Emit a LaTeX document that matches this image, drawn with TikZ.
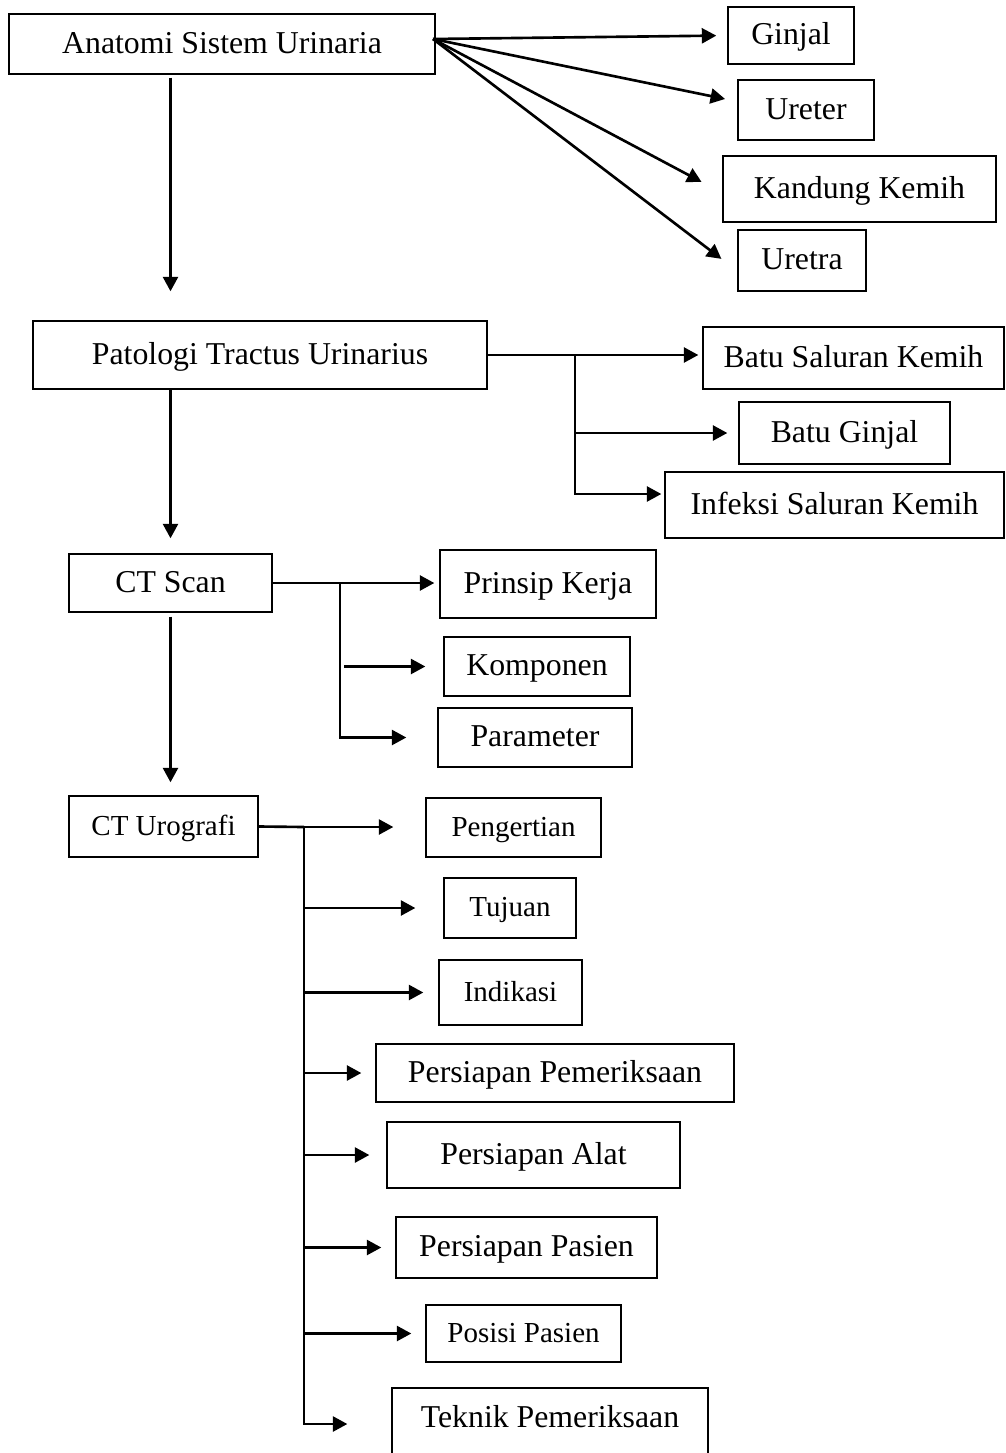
\documentclass[tikz,border=0pt]{standalone}
\usepackage{fontspec}
\setmainfont{Liberation Serif}
\usetikzlibrary{arrows.meta}

\begin{document}
\begin{tikzpicture}[x=0.02cm, y=-0.02cm,
	box/.style={draw, line width=0.8pt, inner sep=0pt, font=\fontsize{18.1}{22}\selectfont, text height=14.5pt, text depth=4pt},
	smallbox/.style={box, font=\fontsize{16.5}{20}\selectfont, text height=13.3pt, text depth=3.6pt},
	link/.style={line width=1.5pt},
	arr/.style={link, -{Triangle[length=2.9mm, width=3mm]}}]
	\useasboundingbox (0,0) rectangle (1006,1453);
	\node[box, minimum width=8.52cm, minimum height=1.2cm] (anat) at (222,44) {Anatomi Sistem Urinaria};
	\node[box, minimum width=2.52cm, minimum height=1.14cm] (ginjal) at (791,35.5) {Ginjal};
	\node[box, minimum width=2.72cm, minimum height=1.2cm] (ureter) at (806,110) {Ureter};
	\node[box, minimum width=5.46cm, minimum height=1.32cm] (kandung) at (859.5,189) {Kandung Kemih};
	\node[box, minimum width=2.56cm, minimum height=1.22cm] (uretra) at (802,260.5) {Uretra};
	\node[box, minimum width=9.08cm, minimum height=1.36cm] (pato) at (260,355) {Patologi Tractus Urinarius};
	\node[box, minimum width=6.02cm, minimum height=1.24cm] (bsk) at (853.5,358) {Batu Saluran Kemih};
	\node[box, minimum width=4.22cm, minimum height=1.24cm] (bg) at (844.5,433) {Batu Ginjal};
	\node[box, minimum width=6.78cm, minimum height=1.32cm] (isk) at (834.5,505) {Infeksi Saluran Kemih};
	\node[box, minimum width=4.06cm, minimum height=1.16cm] (ctscan) at (170.5,583) {CT Scan};
	\node[box, minimum width=4.32cm, minimum height=1.36cm] (prinsip) at (548,584) {Prinsip Kerja};
	\node[box, minimum width=3.72cm, minimum height=1.18cm] (komponen) at (537,666.5) {Komponen};
	\node[box, minimum width=3.88cm, minimum height=1.18cm] (param) at (535,737.5) {Parameter};
	\node[smallbox, minimum width=3.78cm, minimum height=1.22cm] (ctu) at (163.5,826.5) {CT Urografi};
	\node[smallbox, minimum width=3.5cm, minimum height=1.18cm] (peng) at (513.5,827.5) {Pengertian};
	\node[smallbox, minimum width=2.64cm, minimum height=1.2cm] (tujuan) at (510,908) {Tujuan};
	\node[smallbox, minimum width=2.86cm, minimum height=1.3cm] (indikasi) at (510.5,992.5) {Indikasi};
	\node[box, minimum width=7.16cm, minimum height=1.16cm] (ppem) at (555,1073) {Persiapan Pemeriksaan};
	\node[box, minimum width=5.86cm, minimum height=1.32cm] (palat) at (533.5,1155) {Persiapan Alat};
	\node[box, minimum width=5.22cm, minimum height=1.22cm] (ppas) at (526.5,1247.5) {Persiapan Pasien};
	\node[smallbox, minimum width=3.9cm, minimum height=1.14cm] (posisi) at (523.5,1333.5) {Posisi Pasien};
	\node[box, minimum width=6.32cm, minimum height=1.44cm, text depth=11pt] (teknik) at (550,1424) {Teknik Pemeriksaan};

	\coordinate (fan) at (433,39);
	\coordinate (pbus) at (575,355);
	\coordinate (cbus) at (340,584);
	\coordinate (ubus) at (304,827);

	\draw[arr, shorten >=0.22cm] (fan) -- (ginjal.west);
	\draw[arr, shorten >=0.25cm] (fan) -- ([yshift=0.17cm]ureter.west);
	\draw[arr, shorten >=0.47cm] (fan) -- ([yshift=-0.08cm]kandung.west);
	\draw[arr, shorten >=0.4cm] (fan) -- ([yshift=-0.21cm]uretra.west);

	\draw[arr, shorten <=0.06cm, shorten >=0.58cm] (anat.south -| ctscan) -- (ctscan |- pato.north);
	\draw[arr, shorten >=0.3cm] (pato.south -| ctscan) -- (ctscan.north);
	\draw[arr, shorten <=0.08cm, shorten >=0.26cm] (ctscan.south) -- (ctscan.south |- ctu.north);

	\draw[arr, shorten >=0.08cm] (pato.east) -- (pato.east -| bsk.west);
	\draw[arr, shorten >=0.22cm] (pbus |- bg.west) -- (bg.west);
	\draw[arr, shorten >=0.06cm] (pbus) |- ([yshift=0.22cm]isk.west);

	\draw[arr, shorten >=0.1cm] (ctscan.east) -- (ctscan.east -| prinsip.west);
	\draw[arr, shorten <=0.08cm, shorten >=0.36cm] (cbus |- komponen.west) -- (komponen.west);
	\draw[arr, shorten >=0.62cm] (cbus) |- (param.west);

	\draw[link] (ctu.east) -- (ubus);
	\draw[arr, shorten >=0.64cm] (ubus) -- (ubus -| peng.west);
	\foreach \n/\s in {tujuan/0.56, indikasi/0.3, ppem/0.28, palat/0.34, ppas/0.28, posisi/0.28}
		\draw[arr, shorten >=\s cm] (ubus |- \n.west) -- (\n.west);
	\draw[arr, shorten >=0.88cm] (ubus) |- (teknik.west);
\end{tikzpicture}
\end{document}
